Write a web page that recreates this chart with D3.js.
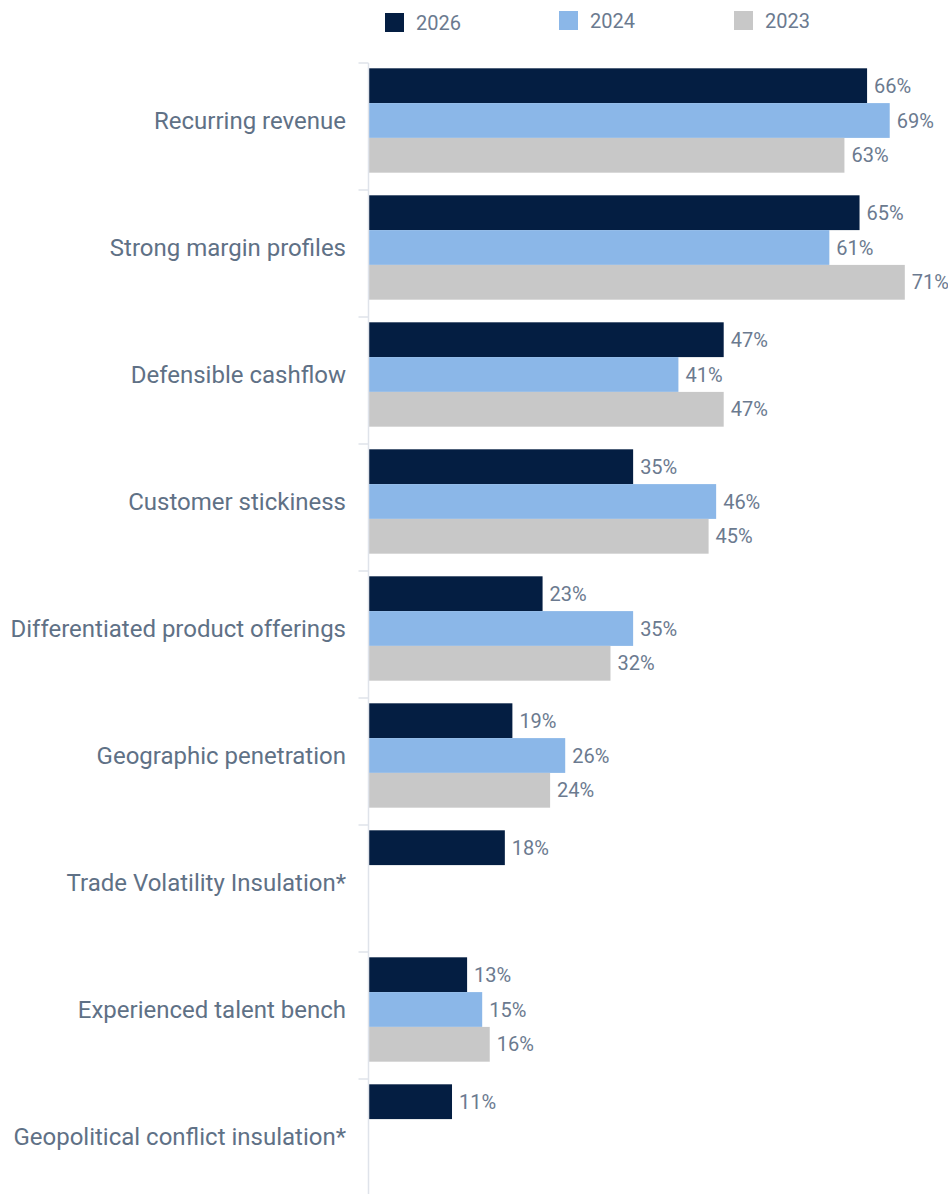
<!DOCTYPE html>
<html>
<head>
<meta charset="utf-8">
<script src="https://cdn.jsdelivr.net/npm/d3@7"></script>
<style>
  html, body { margin: 0; padding: 0; background: #ffffff; }
  svg { display: block; font-family: Roboto, "Noto Sans", sans-serif; }
</style>
</head>
<body>
<svg id="chart" width="948" height="1194"></svg>
<script>
// Deal attributes rated as most important, by survey year
const categories = [
  "Recurring revenue",
  "Strong margin profiles",
  "Defensible cashflow",
  "Customer stickiness",
  "Differentiated product offerings",
  "Geographic penetration",
  "Trade Volatility Insulation*",
  "Experienced talent bench",
  "Geopolitical conflict insulation*"
];
const seriesNames = ["2026", "2024", "2023"];
const values2026 = [66, 65, 47, 35, 23, 19, 18, 13, 11];
const values2024 = [69, 61, 41, 46, 35, 26, null, 15, null];
const values2023 = [63, 71, 47, 45, 32, 24, null, 16, null];
const seriesColors = ["#041e42", "#8bb7e8", "#c8c8c8"];

const seriesValues = [values2026, values2024, values2023];

const W = 948, H = 1194;
const svg = d3.select("#chart");

const axisX = 368.5;
const x = d3.scaleLinear().domain([0, 75]).range([369, 935]);
const y = d3.scaleBand().domain(categories).range([57, 1200]).paddingInner(0).paddingOuter(0);
const inner = d3.scaleBand().domain(seriesNames).range([0, y.bandwidth()])
  .paddingInner(0).paddingOuter(0.325);
const color = d3.scaleOrdinal().domain(seriesNames).range(seriesColors);

const labelColor = "#5f7186";
const valueColor = "#6b7a8f";

// Legend
const legendX = [385, 559, 734];
const legend = svg.append("g");
seriesNames.forEach((s, i) => {
  const g = legend.append("g").attr("transform", `translate(${legendX[i]},${i === 0 ? 13 : 11})`);
  g.append("rect").attr("width", 19).attr("height", 19).attr("fill", color(s));
  g.append("text").attr("x", 31).attr("y", 9.5).attr("dy", "0.36em")
    .attr("font-size", 20).attr("fill", valueColor).text(s);
});

// Bars
const rows = [];
categories.forEach((c, ci) => {
  seriesNames.forEach((s, si) => {
    const v = seriesValues[si][ci];
    if (v !== null && v !== undefined) rows.push({ c, s, v });
  });
});

const barG = svg.append("g");
barG.selectAll("rect").data(rows).join("rect")
  .attr("x", x(0))
  .attr("y", d => y(d.c) + inner(d.s))
  .attr("width", d => x(d.v) - x(0))
  .attr("height", inner.bandwidth())
  .attr("fill", d => color(d.s));

barG.selectAll("text").data(rows).join("text")
  .attr("x", d => x(d.v) + 7)
  .attr("y", d => y(d.c) + inner(d.s) + inner.bandwidth() / 2)
  .attr("dy", "0.36em")
  .attr("font-size", 20)
  .attr("fill", valueColor)
  .text(d => d.v + "%");

// Category axis: line, boundary ticks, labels
const axisG = svg.append("g");
axisG.append("line")
  .attr("x1", axisX).attr("x2", axisX)
  .attr("y1", y.range()[0] + 6).attr("y2", H)
  .attr("stroke", "#dfe3ea").attr("stroke-width", 1.5);

axisG.selectAll("line.tick").data(categories).join("line")
  .attr("class", "tick")
  .attr("x1", axisX - 10).attr("x2", axisX)
  .attr("y1", d => y(d) + 6).attr("y2", d => y(d) + 6)
  .attr("stroke", "#dfe3ea").attr("stroke-width", 1.5);

axisG.selectAll("text").data(categories).join("text")
  .attr("x", 346)
  .attr("y", d => y(d) + y.bandwidth() / 2)
  .attr("dy", "0.36em")
  .attr("text-anchor", "end")
  .attr("font-size", 24)
  .attr("fill", labelColor)
  .text(d => d);
</script>
</body>
</html>
